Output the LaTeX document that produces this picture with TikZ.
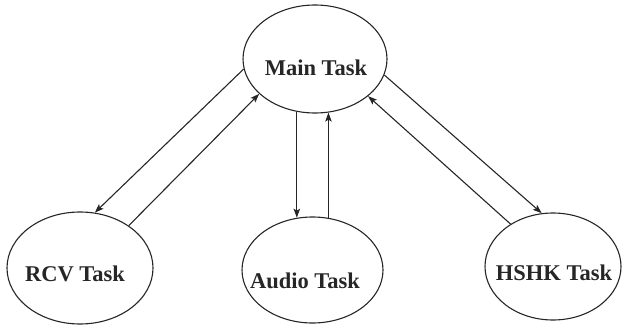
\documentclass[tikz,border=0pt]{standalone}
\usepackage{fontspec}
\setmainfont{Liberation Serif}
\usetikzlibrary{shapes.geometric,arrows.meta}
\begin{document}
\begin{tikzpicture}[x=1pt,y=1pt,
  task/.style={ellipse, draw=black!85, line width=1.1pt, inner sep=0pt},
  lbl/.style={font=\bfseries\fontsize{22.5}{24}\selectfont, text=black!85},
  conn/.style={draw=black!85, line width=1.1pt, -{Stealth[length=9pt,width=6.5pt,inset=2pt]}}]
\useasboundingbox (0,0) rectangle (622,325);
\node[task, minimum width=144pt, minimum height=108pt,
      label={[lbl,yshift=-9pt,xshift=1pt]center:Main Task}] (main) at (315,266) {};
\node[task, minimum width=146pt, minimum height=112pt,
      label={[lbl,yshift=-6pt,xshift=-5pt]center:RCV Task}] (rcv) at (80,57) {};
\node[task, minimum width=141pt, minimum height=106pt,
      label={[lbl,yshift=-11pt,xshift=-7.5pt]center:Audio Task}] (audio) at (312.5,55) {};
\node[task, minimum width=136pt, minimum height=107pt,
      label={[lbl,yshift=-6pt,xshift=1pt]center:HSHK Task}] (hshk) at (553,58.5) {};
\draw[conn] (main.188) -- (rcv.75);
\draw[conn] (rcv.41) -- (main.212);
\draw[conn] (main.251) -- (main.251 |- audio.106);
\draw[conn] (audio.73) -- (audio.73 |- main.284);
\draw[conn] (main.347) -- (hshk.102);
\draw[conn] (hshk.135) -- (main.325);
\end{tikzpicture}
\end{document}
